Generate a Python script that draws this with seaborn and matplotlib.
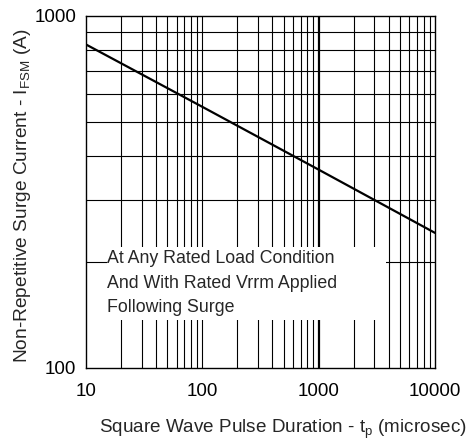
import matplotlib
matplotlib.use("Agg")
import matplotlib.pyplot as plt
import seaborn as sns
import pandas as pd
import numpy as np
from matplotlib.patches import Rectangle
from matplotlib.ticker import FixedLocator, NullFormatter

# ---- data ----
pulse_us = [10, 100, 1000, 10000]
surge_a = [830, 552, 366, 242]
x_ticks = [10, 100, 1000, 10000]
x_ticklabels = ["10", "100", "1000", "10000"]
y_ticks = [100, 1000]
y_ticklabels = ["100", "1000"]
note_lines = ["At Any Rated Load Condition", "And With Rated Vrrm Applied", "Following Surge"]

sns.set_style("white")
plt.rcParams['font.family'] = ['Liberation Sans', 'DejaVu Sans']
plt.rcParams['mathtext.fontset'] = 'custom'
plt.rcParams['mathtext.rm'] = 'Liberation Sans'
plt.rcParams['mathtext.it'] = 'Liberation Sans'

fig = plt.figure(figsize=(4.7, 4.45), dpi=100)
ax = fig.add_axes([86/470, 1-368/445, (435-86)/470, (368-16)/445])

df = pd.DataFrame({"t": pulse_us, "i": surge_a})
sns.lineplot(data=df, x="t", y="i", ax=ax, color="black", lw=1.6, zorder=5)

ax.set_xscale("log")
ax.set_yscale("log")
ax.set_xlim(10, 10000)
ax.set_ylim(100, 1000)

# grid lines
minor_x = [m * 10**e for e in range(1, 4) for m in range(2, 10)]
minor_y = [m * 100 for m in range(2, 10)]
for xv in minor_x + [100]:
    ax.axvline(xv, color="black", lw=0.8, zorder=1)
ax.axvline(1000, color="black", lw=1.6, zorder=1)
for yv in minor_y:
    ax.axhline(yv, color="black", lw=0.8, zorder=1)

ax.xaxis.set_major_locator(FixedLocator(x_ticks))
ax.set_xticklabels(x_ticklabels)
ax.yaxis.set_major_locator(FixedLocator(y_ticks))
ax.set_yticklabels(y_ticklabels)
ax.xaxis.set_minor_formatter(NullFormatter())
ax.yaxis.set_minor_formatter(NullFormatter())
ax.tick_params(which="both", length=0, labelsize=13.5, colors="black")
ax.tick_params(axis="x", pad=10.5)
ax.tick_params(axis="y", pad=7)

for s in ax.spines.values():
    s.set_color("black")
    s.set_linewidth(1.0)
    s.set_zorder(6)

# white note box
ax.add_patch(Rectangle((0.06, 0.136), 0.80, 0.208, transform=ax.transAxes,
                       facecolor="white", edgecolor="none", zorder=3))
ax.text(0.06, 0.241, "\n".join(note_lines), transform=ax.transAxes,
        ha="left", va="center", fontsize=12.8, linespacing=1.6, zorder=4)

ax.set_xlabel("Square Wave Pulse Duration - t$_\\mathregular{p}$ (microsec)", fontsize=13.6)
ax.xaxis.set_label_coords(0.565, -0.142)
ax.set_ylabel("Non-Repetitive Surge Current - I$_\\mathregular{FSM}$ (A)", fontsize=13.8)
ax.yaxis.set_label_coords(-0.153, 0.49)

fig.savefig("out.png", dpi=100)
